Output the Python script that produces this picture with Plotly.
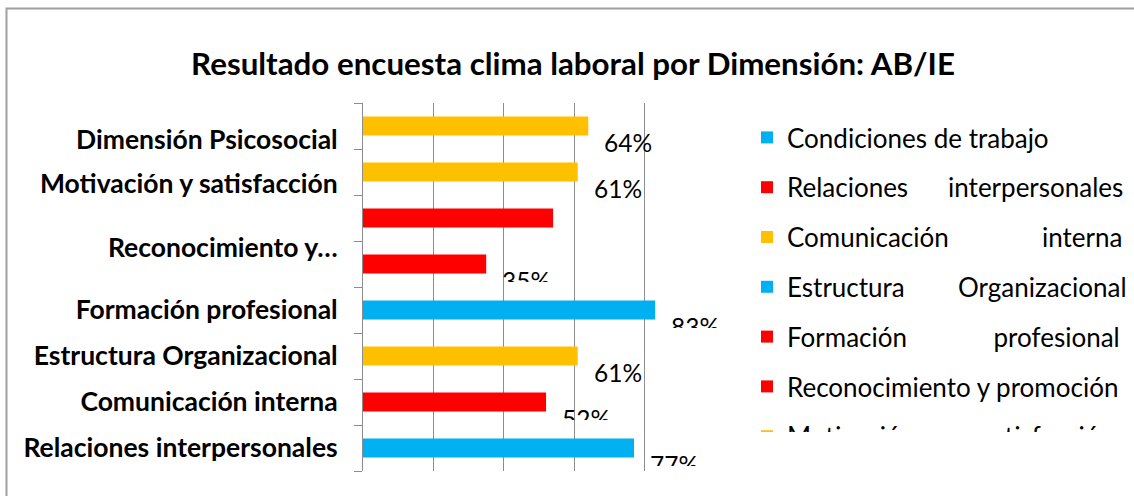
import plotly.graph_objects as go

# ---------------- data ----------------
categories = ["Condiciones de trabajo", "Relaciones interpersonales", "Comunicación interna",
              "Estructura Organizacional", "Formación profesional", "Reconocimiento y promoción",
              "Motivación y satisfacción", "Dimensión Psicosocial"]
values = [77, 52, 61, 83, 35, 54, 61, 64]
bar_colors = ["#00B0F0", "#FF0000", "#FFC000", "#00B0F0", "#FF0000", "#FF0000", "#FFC000", "#FFC000"]

# category-axis labels as they are printed in the original (shifted / truncated)
tick_labels = ["Relaciones interpersonales", "Comunicación interna", "Estructura Organizacional",
               "Formación profesional", "Reconocimiento y…", "Motivación y satisfacción",
               "Dimensión Psicosocial"]
tick_positions = [0, 1, 2, 3, 4.35, 5.74, 6.70]

# ---------------- style ----------------
label_clip = [16, 16, None, 16, 16, 0, None, None]   # px height of visible label box, 0 = hidden
legend_pad = [1, 6, 14, 8, 13, 1, 4, 1]               # nbsp per word gap (justified look)
legend_tail = [0, 0, 0, 0, 0, 8, 0, 0]                # trailing nbsp (widens legend box)
FONT = "Lato"
GRID = "#8c8c8c"

fig = go.Figure()
n = len(categories)
for i, (cat, v, c) in enumerate(zip(categories, values, bar_colors)):
    lname = ("\u00a0" * legend_pad[i]).join(cat.split(" ")) if legend_pad[i] > 1 else cat
    lname += "\u00a0" * legend_tail[i]
    fig.add_trace(go.Bar(
        x=[v], y=[i], orientation="h", width=0.41,
        marker=dict(color=c, line=dict(width=0)),
        name=lname, legendgroup=cat, showlegend=True,
        hoverinfo="x+name",
    ))

annotations = []
for i, v in enumerate(values):
    clip = label_clip[i]
    if clip == 0:
        continue
    ann = dict(x=v, y=i, xref="x", yref="y", text=f"{v}%", showarrow=False,
               xanchor="left", yanchor="top", xshift=14, yshift=0,
               font=dict(family=FONT, size=24.5, color="#000000"), valign="top",
               borderpad=1)
    if clip:
        ann["height"] = clip
    annotations.append(ann)

bounds = [i - 0.5 for i in range(n + 1)]

fig.update_layout(
    width=1134, height=496,
    margin=dict(l=363, r=419, t=103, b=25, autoexpand=False),
    paper_bgcolor="white", plot_bgcolor="white",
    barmode="overlay",
    title=dict(text="Resultado encuesta clima laboral por Dimensión: AB/IE",
               x=573 / 1134, xref="container", xanchor="center",
               y=1 - 64.5 / 496, yref="container", yanchor="middle",
               font=dict(family=FONT, size=31.3, color="#000000", weight=700)),
    xaxis=dict(range=[0, 100], dtick=20, showgrid=True, gridcolor=GRID, gridwidth=1,
               showticklabels=False, ticks="", zeroline=False, showline=False, fixedrange=True),
    yaxis=dict(range=[-0.5, n - 0.5], tickmode="array", tickvals=tick_positions,
               ticktext=tick_labels, ticks="", ticklabelstandoff=19,
               tickfont=dict(family=FONT, size=26.5, color="#000000", weight=700),
               showline=True, linecolor=GRID, linewidth=1, showgrid=False, zeroline=False,
               minor=dict(tickmode="array", tickvals=bounds, ticks="outside", ticklen=8,
                          tickcolor=GRID, tickwidth=1, showgrid=False),
               fixedrange=True),
    legend=dict(x=(747 - 363) / 352, xanchor="left", y=(471 - 114) / 368, yanchor="top",
                font=dict(family=FONT, size=26, color="#000000"),
                tracegroupgap=13, bgcolor="rgba(0,0,0,0)", borderwidth=0,
                traceorder="grouped", maxheight=318),
    annotations=annotations,
    shapes=[dict(type="rect", xref="paper", yref="paper",
                 x0=(6.5 - 363) / 352, x1=2.5, y0=-0.3, y1=(471 - 8.5) / 368,
                 line=dict(color="#a0a0a0", width=2), fillcolor="rgba(0,0,0,0)", layer="below")],
    showlegend=True,
)

post = (
    "document.body.style.margin='0';"
    "var st=document.createElement('style');"
    "st.textContent='rect.scrollbar{display:none !important;}';"
    "document.head.appendChild(st);"
)
fig.write_html("out.html", config={"displayModeBar": False}, post_script=post)
